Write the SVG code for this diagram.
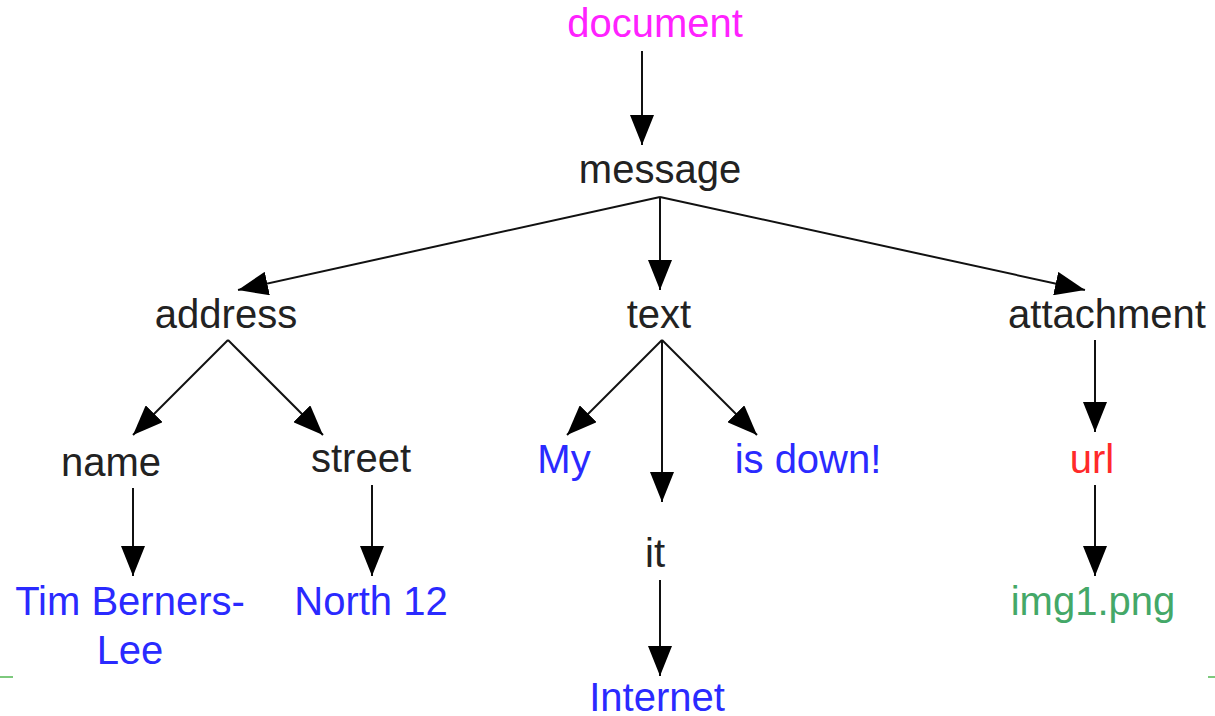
<svg xmlns="http://www.w3.org/2000/svg" width="1215" height="716" viewBox="0 0 1215 716">
<style>
text{font-family:"Liberation Sans",Arial,sans-serif;font-size:40px;text-anchor:middle}
.k{fill:#222}
.m{fill:#ff22ff}
.b{fill:#2a2aff}
.r{fill:#ff2a2a}
.g{fill:#44a868}
.c line{stroke:#111;stroke-width:2;marker-end:url(#ah)}
</style>
<defs>
<marker id="ah" markerUnits="userSpaceOnUse" markerWidth="32" markerHeight="24" refX="30" refY="12" orient="auto">
<path d="M0,0 L30,12 L0,24 Z" fill="#000"/>
</marker>
</defs>
<rect width="1215" height="716" fill="#fff"/>
<line x1="0" y1="677" x2="13" y2="677" stroke="#7dc97d" stroke-width="2"/>
<line x1="1208" y1="677" x2="1215" y2="677" stroke="#7dc97d" stroke-width="2"/>
<g class="c">
<line x1="642" y1="51" x2="642" y2="145"/>
<line x1="660" y1="197" x2="238" y2="290"/>
<line x1="660" y1="197" x2="660" y2="290"/>
<line x1="660" y1="197" x2="1085" y2="290"/>
<line x1="228" y1="340" x2="133" y2="435"/>
<line x1="228" y1="340" x2="323" y2="435"/>
<line x1="662" y1="340" x2="567" y2="435"/>
<line x1="662" y1="340" x2="662" y2="502"/>
<line x1="662" y1="340" x2="757" y2="435"/>
<line x1="1095" y1="340" x2="1095" y2="432"/>
<line x1="1095" y1="485" x2="1095" y2="576"/>
<line x1="133" y1="488" x2="133" y2="576"/>
<line x1="372" y1="485" x2="372" y2="576"/>
<line x1="660" y1="580" x2="660" y2="676"/>
</g>
<g id="document"><text class="m" x="655" y="37">document</text></g>
<g id="message"><text class="k" x="660" y="183">message</text></g>
<g id="address"><text class="k" x="226" y="328">address</text></g>
<g id="text"><text class="k" x="659" y="328">text</text></g>
<g id="attachment"><text class="k" x="1107" y="328">attachment</text></g>
<g id="name"><text class="k" x="111" y="476">name</text></g>
<g id="street"><text class="k" x="361" y="472">street</text></g>
<g id="my"><text class="b" x="564" y="473">My</text></g>
<g id="isdown"><text class="b" x="808" y="473">is down!</text></g>
<g id="url"><text class="r" x="1092" y="473">url</text></g>
<g id="it"><text class="k" x="655" y="567">it</text></g>
<g id="tim"><text class="b" x="130" y="615">Tim Berners-</text><text class="b" x="130" y="664">Lee</text></g>
<g id="north"><text class="b" x="371" y="615">North 12</text></g>
<g id="img1"><text class="g" x="1093" y="615">img1.png</text></g>
<g id="internet"><text class="b" x="657" y="711">Internet</text></g>
</svg>
